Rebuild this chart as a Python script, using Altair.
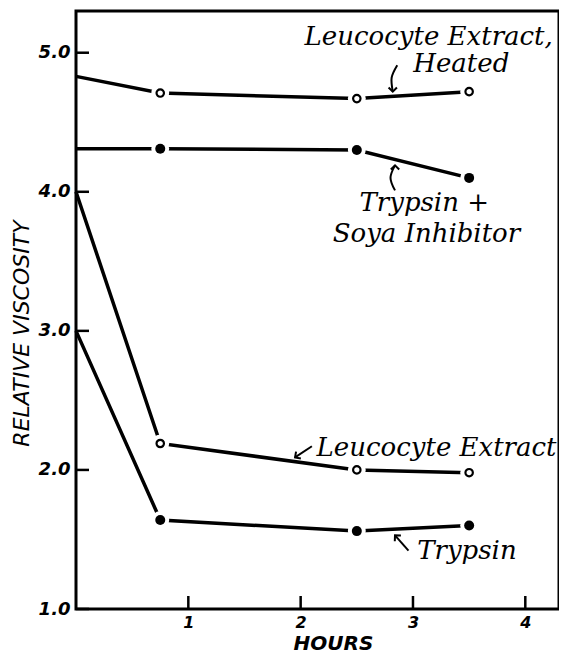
import altair as alt
import pandas as pd

# ---- data ----
hours = [0, 0.75, 2.5, 3.5]
heated = [4.83, 4.71, 4.67, 4.72]
soya = [4.31, 4.31, 4.30, 4.10]
leuco = [4.0, 2.19, 2.0, 1.98]
trypsin = [3.0, 1.64, 1.56, 1.60]
series_names = ["Leucocyte Extract, Heated", "Trypsin + Soya Inhibitor",
                "Leucocyte Extract", "Trypsin"]
open_series = ["Leucocyte Extract, Heated", "Leucocyte Extract"]

x_ticks = [1, 2, 3, 4]
y_ticks = [1, 2, 3, 4, 5]

label_text = ["Leucocyte Extract,", "Heated", "Trypsin +", "Soya Inhibitor",
              "Leucocyte Extract", "Trypsin"]
label_x = [3.14, 3.43, 3.10, 3.12, 3.21, 3.48]
label_y = [5.115, 4.92, 3.92, 3.70, 2.16, 1.42]

arrow_id = [1, 1, 1, 2, 2, 2, 3, 3, 4, 4]
arrow_ord = [0, 1, 2, 0, 1, 2, 0, 1, 0, 1]
arrow_x = [2.86, 2.81, 2.82, 2.84, 2.80, 2.84, 2.10, 1.95, 2.96, 2.84]
arrow_y = [4.91, 4.82, 4.72, 4.01, 4.10, 4.19, 2.17, 2.09, 1.42, 1.53]
head_x = [2.82, 2.84, 1.95, 2.84]
head_y = [4.72, 4.19, 2.09, 1.53]
head_angle = [180, 0, 235, 317]

# ---- tables ----
rows = []
for name, vals in zip(series_names, [heated, soya, leuco, trypsin]):
    for h, v in zip(hours, vals):
        rows.append({"series": name, "hours": h, "value": v,
                     "open": name in open_series})
df = pd.DataFrame(rows)
labels = pd.DataFrame({"t": label_text, "x": label_x, "y": label_y})
arrows = pd.DataFrame({"id": arrow_id, "o": arrow_ord, "x": arrow_x, "y": arrow_y})
heads = pd.DataFrame({"x": head_x, "y": head_y, "ang": head_angle})
xt = pd.DataFrame({"x": x_ticks})
yt = pd.DataFrame({"y": y_ticks})

W, H = 483, 598
xs = alt.Scale(domain=[0, 4.30], nice=False, zero=False)
ys = alt.Scale(domain=[1.0, 5.3], nice=False, zero=False)

x_axis = alt.Axis(values=x_ticks, format="d", title="HOURS", grid=False, ticks=False,
                  domain=False, labelFont="DejaVu Sans", labelFontSize=16,
                  labelFontStyle="italic", labelFontWeight="bold", labelColor="black",
                  labelPadding=5, titleFont="DejaVu Sans", titleFontSize=20,
                  titleFontStyle="italic", titleFontWeight="bold", titleColor="black",
                  titleX=257, titleY=34, titleBaseline="middle", titleAlign="center")
y_axis = alt.Axis(values=y_ticks, format=".1f", title="RELATIVE VISCOSITY", grid=False,
                  ticks=False, domain=False, labelFont="DejaVu Sans", labelFontSize=18,
                  labelFontStyle="italic", labelFontWeight="bold", labelColor="black",
                  labelPadding=6, titleFont="DejaVu Sans", titleFontSize=22,
                  titleFontStyle="italic", titleFontWeight="normal", titleColor="black",
                  titleX=-55, titleY=322, titleAngle=270, titleBaseline="middle",
                  titleAlign="center")


def X(field):
    return alt.X(field, type="quantitative", scale=xs, axis=x_axis)


def Y(field):
    return alt.Y(field, type="quantitative", scale=ys, axis=y_axis)


base = alt.Chart(df)
lines = base.mark_line(color="black", strokeWidth=3.5).encode(
    x=X("hours"), y=Y("value"), detail="series:N")
pts = base.transform_filter("datum.hours > 0")
halo = pts.mark_point(filled=True, fill="white", stroke="white", strokeWidth=0,
                      opacity=1, fillOpacity=1, size=320, shape="circle").encode(
    x=X("hours"), y=Y("value"))
open_m = pts.transform_filter("datum.open").mark_point(
    shape="circle", filled=False, fill="white", stroke="black", strokeWidth=2.2,
    size=55, opacity=1, fillOpacity=1).encode(x=X("hours"), y=Y("value"))
fill_m = pts.transform_filter("!datum.open").mark_point(
    shape="circle", filled=True, fill="black", size=100, opacity=1,
    fillOpacity=1).encode(x=X("hours"), y=Y("value"))

ytick_l = alt.Chart(yt).mark_rule(color="black", strokeWidth=2.5).encode(
    y=Y("y"), x=alt.value(0), x2=alt.value(13))
xtick_l = alt.Chart(xt).mark_rule(color="black", strokeWidth=2.5).encode(
    x=X("x"), y=alt.value(H), y2=alt.value(H - 13))

text_l = alt.Chart(labels).mark_text(
    font="DejaVu Serif", fontStyle="italic", fontSize=26, color="black",
    baseline="middle", align="center").encode(x=X("x"), y=Y("y"), text="t:N")

arrow_l = alt.Chart(arrows).mark_line(color="black", strokeWidth=2,
                                      interpolate="cardinal").encode(
    x=X("x"), y=Y("y"), detail="id:N", order="o:Q")
head_l = alt.Chart(heads).mark_point(
    shape="M -1 1 L 0 0 L 1 1", filled=False, stroke="black", strokeWidth=2,
    size=70, opacity=1).encode(
    x=X("x"), y=Y("y"), angle=alt.Angle("ang:Q", scale=None))

chart = alt.layer(lines, halo, open_m, fill_m, ytick_l, xtick_l, text_l, arrow_l, head_l
).properties(
    width=W, height=H,
    autosize=alt.AutoSizeParams(type="none"),
    padding={"left": 68, "top": 3, "right": 0, "bottom": 44},
    background="white",
).configure_view(stroke="black", strokeWidth=3)

chart.save("out.html", embed_options={"renderer": "svg", "actions": False})
